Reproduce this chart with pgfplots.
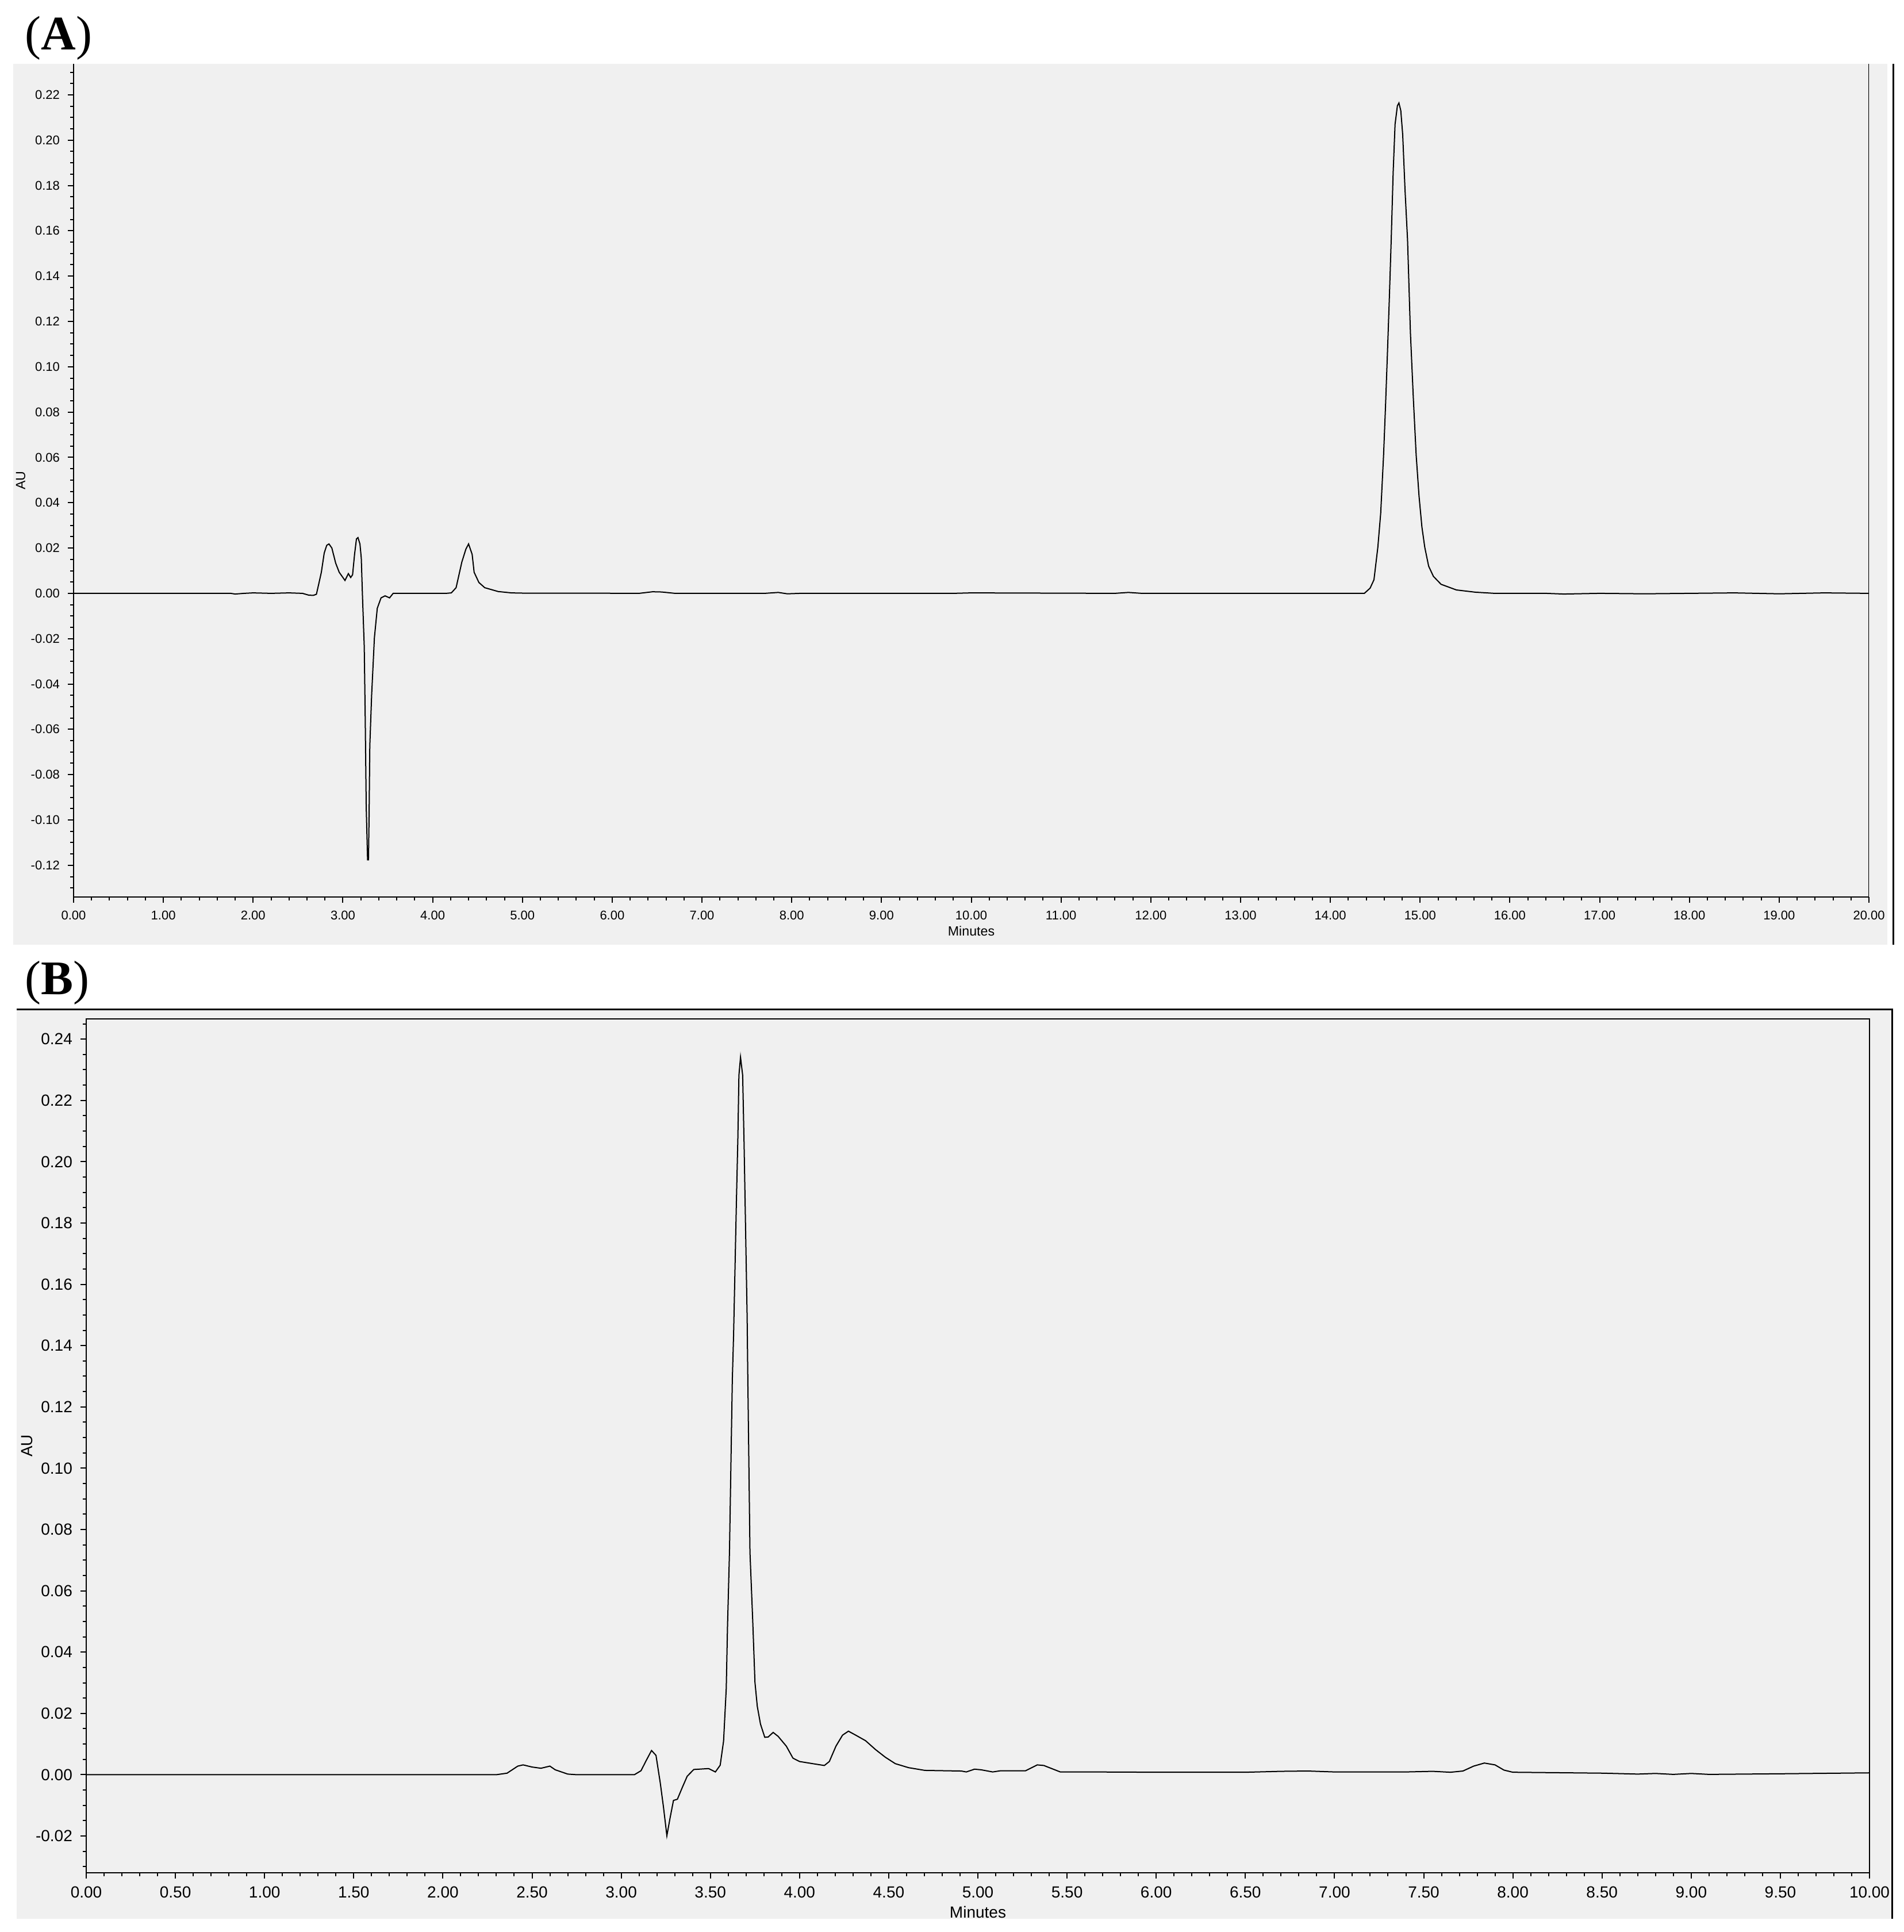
\documentclass[border=0pt]{standalone}
\usepackage{fontspec}
\setmainfont{Liberation Sans}
\newfontfamily\seriffont{Liberation Serif}
\usepackage{pgfplots}
\pgfplotsset{compat=1.18}
\definecolor{panelgrey}{HTML}{F0F0F0}

\pgfplotsset{
  chromstyle/.style={
    scale only axis,
    tick align=outside,
    major tick length=2.5pt,
    minor tick length=1.5pt,
    every tick/.style={black, line width=0.5pt},
    axis line style={line width=0.55pt, -},
    xticklabel={\pgfmathprintnumber[fixed,fixed zerofill,precision=2,assume math mode=true]{\tick}},
    yticklabel={\pgfmathprintnumber[fixed,fixed zerofill,precision=2,assume math mode=true]{\tick}},
    scaled ticks=false,
    clip=true,
  }
}

\begin{document}
\begin{tikzpicture}[x=1pt,y=1pt]
\fill[white] (0,0) rectangle (827.75,840);
\useasboundingbox (0,0) rectangle (827.75,840);
% panel A background
\fill[panelgrey] (5.75,429.25) rectangle (820.75,812.25);
\draw[line width=0.75pt] (823.25,429.25) -- (823.25,812.25);
% panel B background and frame
\fill[panelgrey] (7.25,5.75) rectangle (822.75,401);
\draw[line width=0.75pt] (7.25,401) -- (822.75,401) -- (822.75,5.75);
% panel letters
\node[anchor=base west, inner sep=0pt, font=\seriffont\fontsize{21}{21}\selectfont] at (10.75,818.25) {(\textbf{A})};
\node[anchor=base west, inner sep=0pt, font=\seriffont\fontsize{21}{21}\selectfont] at (10.75,407.5) {(\textbf{B})};

% ---------------- Panel A ----------------
\begin{axis}[chromstyle,
  at={(32pt,450pt)}, anchor=south west,
  width=780.75pt, height=362.25pt,
  xmin=0, xmax=20, ymin=-0.134, ymax=0.2337,
  axis x line*=bottom, axis y line*=left,
  xtick={0,1,...,20},
  minor xtick={0,0.2,...,20},
  ytick={-0.12,-0.10,-0.08,-0.06,-0.04,-0.02,0,0.02,0.04,0.06,0.08,0.10,0.12,0.14,0.16,0.18,0.20,0.22},
  minor ytick={-0.13,-0.125,...,0.231},
  tick label style={font=\fontsize{5.5}{6}\selectfont},
  xlabel={Minutes}, ylabel={AU},
  label style={font=\fontsize{5.8}{6}\selectfont},
  xlabel style={at={(axis description cs:0.5,0)}, anchor=center, yshift=-14.75pt},
  ylabel style={at={(axis description cs:0,0.5)}, anchor=center, yshift=23pt},
]
\addplot[black, line width=0.5pt, no marks] table {
0 0
1.5 0
1.75 0
1.8 -0.0003
1.9 0
2.0 0.0002
2.2 0
2.4 0.0002
2.55 0
2.62 -0.0008
2.67 -0.0009
2.705 -0.0004
2.728 0.0036
2.76 0.0093
2.792 0.0178
2.82 0.0212
2.845 0.0218
2.877 0.0200
2.92 0.0133
2.959 0.0093
3.023 0.0057
3.061 0.0087
3.087 0.0070
3.108 0.0082
3.13 0.0172
3.151 0.0240
3.168 0.0246
3.19 0.0218
3.205 0.0155
3.217 0.0002
3.238 -0.0236
3.249 -0.0559
3.260 -0.0944
3.275 -0.1176
3.285 -0.1176
3.292 -0.0978
3.30 -0.0672
3.32 -0.0451
3.351 -0.0196
3.383 -0.0066
3.425 -0.0020
3.47 -0.0011
3.52 -0.0020
3.56 0
4.15 0
4.208 0.0002
4.261 0.0025
4.325 0.0138
4.37 0.0195
4.40 0.0218
4.44 0.0172
4.462 0.0093
4.515 0.0048
4.58 0.0025
4.73 0.0008
4.878 0.0002
5.0 0.0001
5.5 0.0001
6.3 0
6.45 0.0007
6.55 0.0006
6.7 0
7.7 0
7.85 0.0004
7.95 -0.0002
8.1 0
9.8 0
10 0.0002
11.6 0
11.75 0.0004
11.9 0
14.3 0
14.379 0
14.443 0.0023
14.486 0.0060
14.529 0.0203
14.561 0.0354
14.593 0.0610
14.614 0.0820
14.636 0.1060
14.657 0.1300
14.678 0.1560
14.700 0.1860
14.721 0.2070
14.747 0.2152
14.764 0.2164
14.785 0.2130
14.806 0.2024
14.832 0.1780
14.860 0.1560
14.892 0.1150
14.924 0.0865
14.956 0.0610
14.988 0.0429
15.020 0.0293
15.052 0.0203
15.095 0.0120
15.148 0.0075
15.233 0.0040
15.404 0.0015
15.617 0.0005
15.83 0
16.4 0
16.6 -0.0003
17.0 0
17.5 -0.0002
18.0 0
18.5 0.0002
19.0 -0.0002
19.5 0.0002
20 0
};
\draw[line width=0.55pt] (rel axis cs:1,0) -- (rel axis cs:1,1);
\end{axis}

% ---------------- Panel B ----------------
\begin{axis}[chromstyle,
  at={(37.5pt,25.75pt)}, anchor=south west,
  width=775.5pt, height=371.25pt,
  xmin=0, xmax=10, ymin=-0.032, ymax=0.2466,
  xtick pos=bottom, ytick pos=left,
  xtick={0,0.5,...,10},
  minor xtick={0,0.1,...,10},
  ytick={-0.02,0,0.02,0.04,0.06,0.08,0.10,0.12,0.14,0.16,0.18,0.20,0.22,0.24},
  minor ytick={-0.03,-0.025,...,0.246},
  tick label style={font=\fontsize{7}{8}\selectfont},
  xlabel={Minutes}, ylabel={AU},
  label style={font=\fontsize{7}{8}\selectfont},
  xlabel style={at={(axis description cs:0.5,0)}, anchor=center, yshift=-17pt},
  ylabel style={at={(axis description cs:0,0.5)}, anchor=center, yshift=25.75pt},
]
\addplot[black, line width=0.5pt, no marks] table {
0 0
2.3 0
2.36 0.0005
2.42 0.0028
2.45 0.0032
2.5 0.0025
2.55 0.0021
2.6 0.0028
2.63 0.0016
2.7 0.0002
2.75 0
3.074 0
3.111 0.0013
3.139 0.0045
3.170 0.0079
3.195 0.0063
3.219 -0.0027
3.237 -0.0106
3.256 -0.0199
3.274 -0.0141
3.293 -0.0084
3.315 -0.0080
3.343 -0.0041
3.370 -0.0005
3.407 0.0017
3.490 0.0020
3.528 0.0009
3.555 0.0031
3.574 0.0110
3.589 0.0282
3.596 0.0483
3.607 0.0725
3.623 0.1288
3.630 0.1432
3.638 0.1650
3.646 0.1872
3.654 0.2074
3.660 0.2282
3.669 0.2341
3.681 0.2282
3.689 0.2057
3.697 0.1793
3.706 0.1495
3.710 0.1288
3.722 0.0725
3.737 0.0509
3.750 0.0301
3.763 0.0223
3.781 0.0165
3.805 0.0122
3.824 0.0123
3.852 0.0138
3.880 0.0125
3.926 0.0093
3.963 0.0054
4.000 0.0043
4.074 0.0036
4.139 0.0030
4.167 0.0043
4.204 0.0093
4.241 0.0129
4.274 0.0142
4.315 0.0129
4.370 0.0111
4.426 0.0082
4.481 0.0057
4.537 0.0036
4.611 0.0023
4.703 0.0014
4.907 0.0012
4.935 0.0009
4.981 0.0018
5.018 0.0016
5.083 0.0009
5.129 0.0013
5.268 0.0013
5.333 0.0032
5.370 0.0030
5.462 0.0009
5.644 0.0009
6.0 0.0008
6.5 0.0008
6.7 0.0011
6.85 0.0012
7.0 0.0009
7.4 0.0009
7.55 0.0011
7.65 0.0008
7.72 0.0012
7.78 0.0028
7.84 0.0038
7.9 0.0032
7.95 0.0015
8.0 0.0008
8.5 0.0005
8.7 0.0002
8.8 0.0004
8.9 0.0001
9.0 0.0004
9.1 0.0001
9.5 0.0003
10 0.0006
};
\end{axis}
\end{tikzpicture}
\end{document}
